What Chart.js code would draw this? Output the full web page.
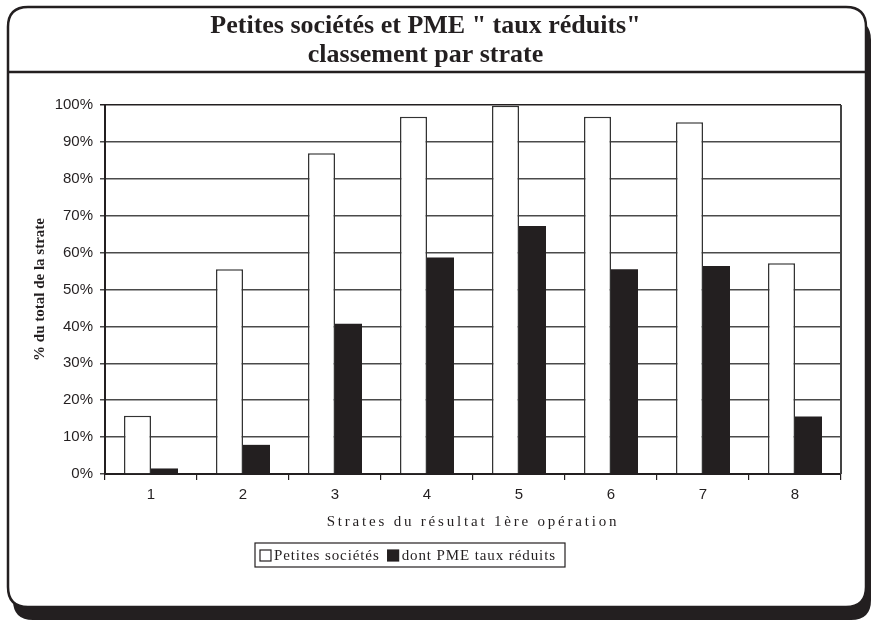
<!DOCTYPE html>
<html>
<head>
<meta charset="utf-8">
<script src="https://cdn.jsdelivr.net/npm/chart.js@4"></script>
<style>
  html, body { margin: 0; padding: 0; background: #fff; }
  #wrap { width: 875px; height: 621px; }
</style>
</head>
<body>
<div id="wrap"><canvas id="myChart" width="875" height="621"></canvas></div>
<script>
const strates = ["1", "2", "3", "4", "5", "6", "7", "8"];
const petitesSocietes = [15.8, 55.5, 86.9, 96.8, 99.8, 96.8, 95.3, 57.1];
const pmeTauxReduits = [1.5, 7.9, 40.7, 58.7, 67.2, 55.5, 56.4, 15.6];
const labelsSeries = ["Petites sociétés", "dont PME taux réduits"];
const titre = ["Petites sociétés et PME \" taux réduits\"", "classement par strate"];
const titreX = "Strates du résultat 1ère opération";
const titreY = "% du total de la strate";

const noir = "#231f20";
const serif = "'Liberation Serif', 'Times New Roman', serif";
const sans = "'Liberation Sans', Arial, sans-serif";

function roundRect(ctx, x, y, w, h, r) {
  ctx.beginPath();
  ctx.moveTo(x + r, y);
  ctx.lineTo(x + w - r, y);
  ctx.quadraticCurveTo(x + w, y, x + w, y + r);
  ctx.lineTo(x + w, y + h - r);
  ctx.quadraticCurveTo(x + w, y + h, x + w - r, y + h);
  ctx.lineTo(x + r, y + h);
  ctx.quadraticCurveTo(x, y + h, x, y + h - r);
  ctx.lineTo(x, y + r);
  ctx.quadraticCurveTo(x, y, x + r, y);
  ctx.closePath();
}

// cadre arrondi avec ombre + trait sous le titre
const cadre = {
  id: "cadre",
  beforeDraw(chart) {
    const ctx = chart.ctx;
    ctx.save();
    ctx.fillStyle = "#fff";
    ctx.fillRect(0, 0, chart.width, chart.height);
    ctx.fillStyle = noir;
    roundRect(ctx, 13, 20, 858, 600, 20);
    ctx.fill();
    ctx.fillStyle = "#fff";
    ctx.strokeStyle = noir;
    ctx.lineWidth = 2.5;
    roundRect(ctx, 8, 7, 858, 600, 20);
    ctx.fill();
    ctx.stroke();
    ctx.beginPath();
    ctx.moveTo(8, 72);
    ctx.lineTo(866, 72);
    ctx.stroke();
    ctx.restore();
  },
  beforeDatasetsDraw(chart) {
    const ctx = chart.ctx;
    const a = chart.chartArea;
    ctx.save();
    ctx.strokeStyle = "#444";
    ctx.lineWidth = 2;
    ctx.beginPath();
    ctx.moveTo(a.right, a.top);
    ctx.lineTo(a.right, a.bottom);
    ctx.stroke();
    ctx.restore();
  },
  afterDraw(chart) {
    const ctx = chart.ctx;
    const a = chart.chartArea;
    ctx.save();
    ctx.fillStyle = noir;
    ctx.font = "15px " + serif;
    ctx.letterSpacing = "2.8px";
    ctx.textAlign = "center";
    ctx.textBaseline = "middle";
    ctx.fillText(titreX, (a.left + a.right) / 2, a.bottom + 48);

    // légende encadrée
    const lx = a.left + 150, ly = a.bottom + 69, lw = 310, lh = 24;
    ctx.lineWidth = 1.2;
    ctx.strokeStyle = noir;
    ctx.strokeRect(lx, ly, lw, lh);
    ctx.letterSpacing = "0.9px";
    ctx.textAlign = "left";
    ctx.font = "15px " + serif;
    let x = lx + 5;
    const ds = chart.data.datasets;
    ds.forEach((d) => {
      ctx.fillStyle = d.backgroundColor;
      ctx.fillRect(x, ly + 7, 11, 11);
      ctx.strokeStyle = noir;
      ctx.strokeRect(x, ly + 7, 11, 11);
      ctx.fillStyle = noir;
      ctx.fillText(d.label, x + 14, ly + 13);
      x += 14 + ctx.measureText(d.label).width + 8;
    });
    ctx.restore();
  }
};

const ctx = document.getElementById("myChart").getContext("2d");
let chart = new Chart(ctx, {
  type: "bar",
  data: {
    labels: strates,
    datasets: [
      {
        label: labelsSeries[0],
        data: petitesSocietes,
        backgroundColor: "#ffffff",
        borderColor: "#333",
        borderWidth: 1.5,
      },
      {
        label: labelsSeries[1],
        data: pmeTauxReduits,
        backgroundColor: noir,
        borderColor: noir,
        borderWidth: 0,
      },
    ],
  },
  options: {
    responsive: false,
    animation: false,
    events: [],
    datasets: {
      bar: { barPercentage: 1, categoryPercentage: 0.587 }
    },
    layout: { padding: { left: 10, right: 34, top: 0, bottom: 111 } },
    plugins: {
      legend: { display: false },
      tooltip: { enabled: false },
      title: {
        display: true,
        text: titre,
        color: noir,
        font: { family: serif, size: 26, weight: "bold", lineHeight: 29 / 26 },
        padding: { top: 12, bottom: 35 },
      },
    },
    scales: {
      x: {
        afterFit(scale) { scale.height = 36; },
        grid: {
          drawOnChartArea: false,
          drawTicks: true,
          tickLength: 6,
          color: noir,
          lineWidth: 1.2,
        },
        border: { color: noir, width: 2 },
        ticks: { color: noir, font: { family: sans, size: 15 }, padding: 6 },
      },
      y: {
        min: 0,
        max: 100,
        afterFit(scale) { scale.width = 95; },
        ticks: {
          stepSize: 10,
          color: noir,
          font: { family: sans, size: 15 },
          padding: 7,
          callback: (v) => v + "%",
        },
        grid: {
          tickLength: 5,
          lineWidth: 1.5,
          color: (c) => (c.tick && c.tick.value === 100 ? noir : "#4a4a4a"),
        },
        border: { color: noir, width: 2 },
        title: {
          display: true,
          text: titreY,
          color: noir,
          font: { family: serif, size: 15, weight: "bold" },
          padding: { top: 21, bottom: 0 },
        },
      },
    },
  },
  plugins: [cadre],
});
</script>
</body>
</html>
